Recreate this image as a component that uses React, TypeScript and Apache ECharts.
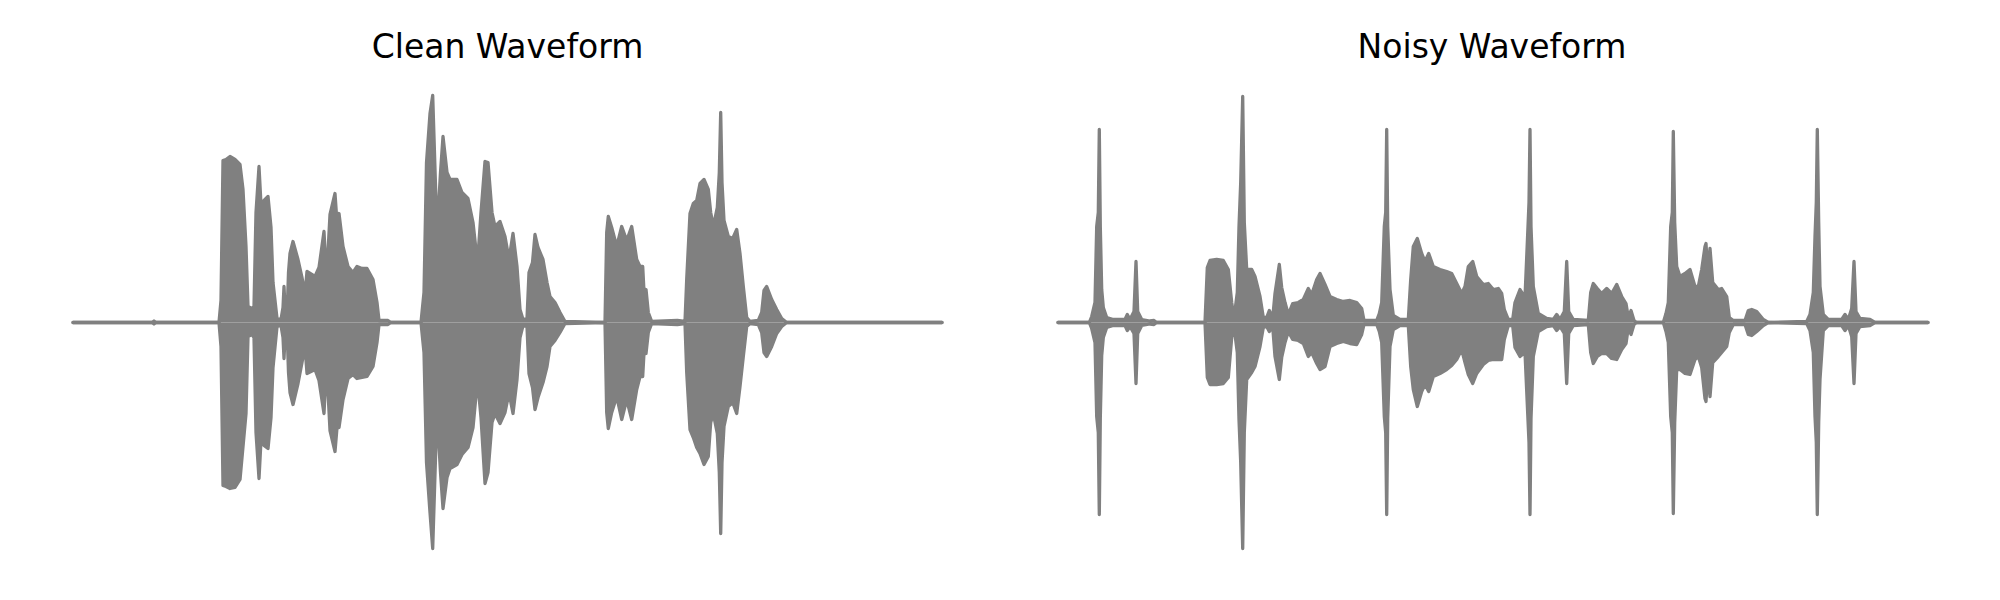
import React, { useEffect, useRef } from "react";
import * as echarts from "echarts";

// ---- Clean waveform envelope (frame index, upper / lower amplitude) ----
const cleanFrames = [
  0, 79, 81, 83, 146, 148, 150, 153, 157, 162,
  167, 170, 173, 175, 179, 181, 183, 186, 188, 191,
  195, 198, 200, 204, 208, 210, 211, 212, 214, 215.5,
  217, 220, 225, 229, 232, 234, 242, 246, 251, 253.5,
  257, 262, 264, 266, 270, 275, 280, 284, 289, 294,
  300, 304, 306, 315, 318, 348, 351, 353.5, 357, 359.7,
  364, 367.5, 370, 374, 377, 384, 389, 395, 400, 404.5,
  408, 412, 415, 419, 422, 427, 432, 436, 440, 444,
  447, 450, 454, 456, 459.5, 462, 465, 470, 474, 477,
  482, 487, 492, 532, 533.7, 535.3, 538.7, 543.7, 548.7, 553.7,
  558.7, 563.7, 567, 569.7, 571.3, 573, 575.3, 578.7, 604.3, 612,
  613.7, 617, 620.3, 623.7, 627, 631, 635.3, 637.7, 640.3, 644.3,
  646.3, 647.7, 649, 651, 655.3, 659.7, 663.7, 667, 670.3, 673.7,
  677, 685.3, 688.7, 691, 693.7, 698.7, 703.7, 708.7, 713.7, 869,
];
const cleanUpper = [
  0, 0, 1.5, 0, 0, 22, 162, 163, 166, 163,
  158, 133, 76, 16, 14, 16, 110, 156, 118, 122,
  126, 95, 40, 4, 3, 15, 36, 15, 5, 50,
  69, 81, 63, 45, 28, 51, 46, 55, 91, 42,
  108, 129, 100, 109, 76, 56, 50, 56, 54, 54,
  43, 20, 2, 2, 0, 0, 30, 160, 209, 227,
  89, 150, 186, 150, 143, 143, 130, 124, 100, 59,
  110, 161, 160, 110, 96, 101, 86, 63, 89, 56,
  13, 3, 4, 50, 60, 88, 75, 63, 40, 26,
  20, 10, 1, 0, 90, 106, 95, 76, 96, 82,
  96, 63, 56, 56, 25, 33, 10, 1, 2, 1,
  43, 109, 119, 122, 139, 143, 133, 110, 96, 115,
  150, 210, 140, 102, 86, 84, 93, 69, 36, 5,
  1, 2, 10, 32, 36, 23, 13, 4, 0, 0,
];
const cleanLower = [
  0, 0, -1.5, 0, 0, -24, -163, -164, -166, -165,
  -157, -124, -91, -14, -12, -15, -110, -156, -118, -123,
  -126, -95, -45, -4, -3, -15, -36, -15, -5, -50,
  -70, -82, -61, -40, -24, -51, -47, -58, -91, -40,
  -108, -129, -105, -105, -77, -56, -52, -56, -55, -54,
  -44, -20, -2, -2, 0, 0, -30, -140, -190, -226,
  -87, -150, -186, -155, -146, -142, -132, -125, -105, -57,
  -95, -161, -150, -100, -91, -101, -90, -70, -91, -57,
  -15, -3, -4, -51, -65, -87, -75, -60, -44, -24,
  -18, -10, -1, 0, -90, -106, -90, -74, -97, -77,
  -97, -67, -54, -54, -25, -31, -10, -1, -2, -1,
  -50, -107, -115, -125, -131, -142, -134, -100, -91, -111,
  -150, -211, -140, -104, -84, -80, -91, -64, -34, -4,
  -1, -2, -10, -30, -34, -24, -11, -4, 0, 0,
];

// ---- Noisy waveform envelope ----
const noisyFrames = [
  0, 31.3, 33.7, 37, 38.7, 40.3, 41.3, 42.3, 43.7, 45.3,
  48.7, 55.3, 67, 69.3, 72, 76, 78, 79.7, 83.7, 92,
  96, 98.7, 147, 149.3, 152, 158.7, 165.3, 170.3, 173.7, 176,
  179.3, 181, 182.7, 184.7, 186.3, 188.7, 193.7, 197, 202, 205.3,
  208.7, 211.3, 214.7, 217, 221.3, 223.7, 227, 230.3, 234.7, 240.3,
  245.3, 250.3, 253.7, 258.7, 262, 267, 272, 278.7, 285.3, 292,
  298.7, 303.7, 306, 318.7, 321.3, 323.7, 326.3, 327.7, 328.7, 329.7,
  332, 335.3, 342, 350.3, 352.7, 355.3, 359.3, 363.7, 367, 370.7,
  375.3, 382, 388.7, 393.7, 398.7, 403.7, 407, 410.3, 414.7, 418.7,
  425.3, 430.3, 435.3, 440.3, 443.7, 446.3, 450.3, 454.7, 457, 462,
  467, 469.7, 471, 472, 473, 475.3, 480.3, 488.7, 495.3, 498.7,
  502, 506.3, 508.7, 510.7, 515.3, 530.3, 532.7, 535.3, 539.3, 543.7,
  548.7, 553.7, 558.7, 563.7, 568, 570.3, 573, 576, 578.7, 605.3,
  608, 610.3, 612.7, 614.3, 615.3, 616.7, 618.7, 622, 627, 632,
  637, 640.3, 643.7, 647, 648, 649.7, 652, 654.7, 660.3, 663.7,
  668.7, 671.3, 675.3, 687, 690.3, 693.7, 698.7, 705.3, 710.3, 748.7,
  752, 755.3, 757, 758.3, 759.3, 760.7, 762, 765.3, 770.3, 783.7,
  787, 790.3, 793.7, 796, 798, 802, 812, 817, 870,
];
const noisyUpper = [
  0, 0, 6, 20, 96, 110, 193, 96, 33, 15,
  5, 3, 3, 8, 3, 11, 61, 11, 3, 1.5,
  2, 0, 0, 55, 62, 63, 62, 53, 20, 4,
  30, 96, 140, 226, 100, 53, 53, 46, 26, 5,
  5, 12, 4, 29, 58, 35, 20, 8, 19, 20,
  23, 34, 28, 43, 49, 38, 26, 23, 21, 22,
  20, 14, 2, 2, 9, 20, 96, 110, 193, 96,
  33, 7, 3, 3, 43, 76, 84, 69, 61, 69,
  56, 53, 51, 49, 39, 29, 36, 56, 61, 46,
  38, 39, 33, 34, 29, 13, 3, 3, 20, 33,
  25, 89, 120, 193, 96, 36, 9, 4, 3, 8,
  3, 11, 61, 11, 3, 2, 30, 39, 34, 29,
  34, 29, 38, 26, 19, 5, 12, 2, 0, 0,
  9, 20, 96, 110, 191, 100, 56, 46, 49, 53,
  36, 36, 53, 76, 79, 50, 74, 40, 33, 34,
  26, 5, 2, 2, 12, 13, 11, 3, 0, 1,
  8, 30, 86, 120, 193, 100, 36, 8, 3, 3,
  8, 3, 14, 61, 11, 4, 3, 0, 0,
];
const noisyLower = [
  0, 0, -6, -20, -94, -110, -192, -96, -33, -15,
  -5, -3, -3, -8, -4, -11, -61, -11, -3, -1.5,
  -2, 0, 0, -55, -62, -62, -61, -55, -15, -4,
  -30, -97, -140, -226, -110, -57, -50, -44, -24, -5,
  -4, -9, -4, -34, -57, -35, -20, -9, -17, -18,
  -21, -34, -30, -41, -47, -44, -24, -21, -19, -21,
  -22, -12, -2, -2, -9, -20, -94, -110, -192, -96,
  -24, -7, -3, -3, -44, -67, -84, -69, -62, -69,
  -54, -51, -47, -43, -37, -27, -40, -52, -61, -51,
  -42, -38, -37, -37, -37, -17, -3, -3, -25, -34,
  -30, -91, -120, -192, -96, -34, -9, -4, -3, -8,
  -4, -11, -61, -11, -3, -2, -30, -41, -34, -31,
  -31, -36, -37, -27, -21, -5, -12, -2, 0, 0,
  -9, -20, -94, -110, -191, -100, -47, -47, -51, -52,
  -37, -34, -45, -76, -79, -50, -74, -40, -34, -30,
  -24, -10, -2, -2, -12, -13, -9, -3, 0, -1,
  -8, -30, -94, -120, -192, -100, -57, -8, -3, -3,
  -8, -3, -14, -61, -11, -4, -3, 0, 0,
];

const titles = ["Clean Waveform", "Noisy Waveform"];

const GRAY = "#808080";

const pair = (xs: number[], ys: number[]) => xs.map((x, i) => [x, ys[i]]);

function envSeries(axis: number, xs: number[], ys: number[]) {
  return {
    type: "line",
    xAxisIndex: axis,
    yAxisIndex: axis,
    data: pair(xs, ys),
    showSymbol: false,
    symbol: "none",
    silent: true,
    lineStyle: { color: GRAY, width: 3.3, cap: "round", join: "round" },
    areaStyle: { color: GRAY, opacity: 1 },
    z: 2,
  };
}

export default function App() {
  const ref = useRef<HTMLDivElement>(null);
  useEffect(() => {
    if (!ref.current) return;
    const chart = echarts.init(ref.current, null, { renderer: "svg" });
    const axisCommon = { type: "value", show: false, splitLine: { show: false } };
    chart.setOption({
      animation: false,
      backgroundColor: "#ffffff",
      grid: [
        { left: 73, top: 82.5, width: 869, height: 480 },
        { left: 1058, top: 82.5, width: 870, height: 480 },
      ],
      xAxis: [
        { ...axisCommon, gridIndex: 0, min: 0, max: cleanFrames[cleanFrames.length - 1] },
        { ...axisCommon, gridIndex: 1, min: 0, max: noisyFrames[noisyFrames.length - 1] },
      ],
      yAxis: [
        { ...axisCommon, gridIndex: 0, min: -240, max: 240 },
        { ...axisCommon, gridIndex: 1, min: -240, max: 240 },
      ],
      graphic: [
        {
          type: "text",
          x: 507.5,
          y: 46.3,
          style: {
            text: titles[0],
            fill: "#000000",
            font: '33px "DejaVu Sans"',
            textAlign: "center",
            textVerticalAlign: "middle",
          },
        },
        {
          type: "text",
          x: 1492,
          y: 46.3,
          style: {
            text: titles[1],
            fill: "#000000",
            font: '33px "DejaVu Sans"',
            textAlign: "center",
            textVerticalAlign: "middle",
          },
        },
      ],
      series: [
        envSeries(0, cleanFrames, cleanUpper),
        envSeries(0, cleanFrames, cleanLower),
        envSeries(1, noisyFrames, noisyUpper),
        envSeries(1, noisyFrames, noisyLower),
      ],
    });
    return () => chart.dispose();
  }, []);
  return (
    <div
      ref={ref}
      style={{ position: "absolute", left: 0, top: 0, width: 2000, height: 600, background: "#fff" }}
    />
  );
}
